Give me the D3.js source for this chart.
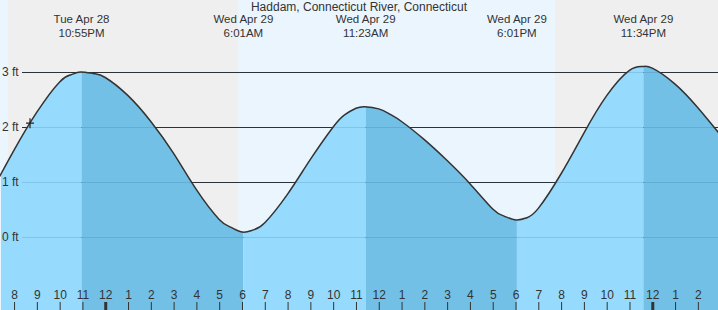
<!DOCTYPE html>
<html>
<head>
<meta charset="utf-8">
<script src="https://cdn.jsdelivr.net/npm/d3@7"></script>
<style>
  body { margin: 0; background: #fff; }
  svg { display: block; font-family: "Liberation Sans", Arial, sans-serif; }
</style>
</head>
<body>
<div id="chart"></div>
<script>
// Tide curve (feet)
const curveTimes = [
  "2020-04-28 19:00", "2020-04-28 20:00", "2020-04-28 21:00", "2020-04-28 22:00", "2020-04-28 22:30",
  "2020-04-28 22:55", "2020-04-28 23:30", "2020-04-29 00:00", "2020-04-29 01:00", "2020-04-29 02:00",
  "2020-04-29 03:00", "2020-04-29 04:00", "2020-04-29 05:00", "2020-04-29 05:30", "2020-04-29 06:01",
  "2020-04-29 06:30", "2020-04-29 07:00", "2020-04-29 08:00", "2020-04-29 09:00", "2020-04-29 10:00",
  "2020-04-29 10:30", "2020-04-29 11:00", "2020-04-29 11:23", "2020-04-29 12:00", "2020-04-29 12:30",
  "2020-04-29 13:00", "2020-04-29 14:00", "2020-04-29 15:00", "2020-04-29 16:00", "2020-04-29 17:00",
  "2020-04-29 17:30", "2020-04-29 18:01", "2020-04-29 18:30", "2020-04-29 19:00", "2020-04-29 20:00",
  "2020-04-29 21:00", "2020-04-29 22:00", "2020-04-29 23:00", "2020-04-29 23:34", "2020-04-30 00:00",
  "2020-04-30 01:00", "2020-04-30 02:00", "2020-04-30 03:00"
];
const curveHeights = [
  0.82, 1.58, 2.27, 2.82, 2.95,
  3.00, 2.97, 2.90, 2.57, 2.10,
  1.52, 0.86, 0.32, 0.18, 0.09,
  0.13, 0.26, 0.78, 1.41, 2.00,
  2.22, 2.34, 2.37, 2.33, 2.23,
  2.10, 1.77, 1.39, 0.97, 0.51,
  0.38, 0.31, 0.35, 0.52, 1.15,
  1.89, 2.57, 3.03, 3.10, 3.07,
  2.78, 2.35, 1.85
];

// High / low tides
const extremeTimes = ["2020-04-28 22:55", "2020-04-29 06:01", "2020-04-29 11:23", "2020-04-29 18:01", "2020-04-29 23:34"];
const extremeTypes = ["H", "L", "H", "L", "H"];
const extremeDays = ["Tue Apr 28", "Wed Apr 29", "Wed Apr 29", "Wed Apr 29", "Wed Apr 29"];
const extremeClock = ["10:55PM", "6:01AM", "11:23AM", "6:01PM", "11:34PM"];

// Night shading (sunset -> sunrise)
const nightStarts = ["2020-04-28 19:44", "2020-04-29 19:44"];
const nightEnds = ["2020-04-29 05:50", "2020-04-30 05:50"];

const feetTicks = [0, 1, 2, 3];
const nowTime = "2020-04-28 20:42";
const nowHeight = 2.07;
const title = "Haddam, Connecticut River, Connecticut";

const width = 718, height = 310;
const parse = d3.timeParse("%Y-%m-%d %H:%M");

const svg = d3.select('#chart').append('svg')
  .attr('width', width)
  .attr('height', height);

// Scales
const x = d3.scaleTime()
  .domain([parse("2020-04-28 19:23"), parse("2020-04-30 02:53")])
  .range([0, width]);
const y = d3.scaleLinear().domain([0, 3]).range([237, 72]);

const curve = curveTimes.map((t, i) => ({ t: parse(t), h: curveHeights[i] }));
const smooth = d3.curveNatural;

// Day background + nights
svg.append('rect').attr('width', width).attr('height', height).attr('fill', '#ebf5fe');
svg.selectAll('rect.night')
  .data(nightStarts)
  .enter()
  .append('rect')
  .attr('class', 'night')
  .attr('x', (d) => x(parse(d)))
  .attr('width', (d, i) => x(parse(nightEnds[i])) - x(parse(d)))
  .attr('y', 0)
  .attr('height', height)
  .attr('fill', '#efefef');

// Grid lines (dark, above the water)
svg.selectAll('line.grid')
  .data(feetTicks)
  .enter()
  .append('line')
  .attr('class', 'grid')
  .attr('x1', 22).attr('x2', width)
  .attr('y1', (d) => Math.round(y(d)) + 0.5)
  .attr('y2', (d) => Math.round(y(d)) + 0.5)
  .attr('stroke', '#333');

// Water area
const area = d3.area()
  .x((d) => x(d.t))
  .y0(height)
  .y1((d) => y(d.h))
  .curve(smooth);

svg.append('clipPath').attr('id', 'water')
  .append('path').attr('d', area(curve));

// rising = light, falling = dark
const bounds = [x.domain()[0]].concat(extremeTimes.map(parse), [x.domain()[1]]);
const bands = d3.range(bounds.length - 1).map((i) => ({
  a: bounds[i], b: bounds[i + 1],
  falling: i > 0 && extremeTypes[i - 1] === 'H'
}));

svg.append('g').attr('clip-path', 'url(#water)')
  .selectAll('rect')
  .data(bands)
  .enter()
  .append('rect')
  .attr('x', (d) => x(d.a) + 1)
  .attr('width', (d) => x(d.b) - x(d.a))
  .attr('y', 0)
  .attr('height', height)
  .attr('fill', (d) => d.falling ? '#72c0e6' : '#96dbfd');

// Faint grid over the water
svg.selectAll('line.faint')
  .data(feetTicks)
  .enter()
  .append('line')
  .attr('class', 'faint')
  .attr('x1', 22).attr('x2', width)
  .attr('y1', (d) => Math.round(y(d)) + 0.5)
  .attr('y2', (d) => Math.round(y(d)) + 0.5)
  .attr('stroke', 'rgba(0,50,100,0.13)');

// Tide line
svg.append('path')
  .attr('d', d3.line().x((d) => x(d.t)).y((d) => y(d.h)).curve(smooth)(curve))
  .attr('fill', 'none')
  .attr('stroke', '#333')
  .attr('stroke-width', 1.5);

// Y labels
svg.selectAll('text.ft')
  .data(feetTicks)
  .enter()
  .append('text')
  .attr('class', 'ft')
  .attr('x', 2)
  .attr('y', (d) => y(d) + 4)
  .attr('font-size', '12px')
  .attr('fill', '#333')
  .text((d) => `${d} ft`);

// Hour axis
const xAxis = d3.axisTop(x)
  .ticks(d3.timeHour.every(1))
  .tickFormat(d3.timeFormat('%-I'))
  .tickSize(8);
const xAxisGroup = svg.append('g')
  .attr('transform', `translate(0, ${height})`)
  .call(xAxis);
xAxisGroup.select('.domain').remove();
xAxisGroup.selectAll('text')
  .attr('font-size', '12px')
  .attr('font-family', '"Liberation Sans", Arial, sans-serif')
  .attr('fill', '#333');
xAxisGroup.selectAll('line')
  .attr('stroke', '#333')
  .attr('stroke-width', (d) => d.getHours() === 0 ? 3 : 1);

// Tide labels (two lines)
const labels = svg.selectAll('text.tide')
  .data(extremeTimes)
  .enter()
  .append('text')
  .attr('class', 'tide')
  .attr('text-anchor', 'middle')
  .attr('font-size', '11.5px')
  .attr('fill', '#333');
labels.append('tspan')
  .attr('x', (d) => x(parse(d)) + 1)
  .attr('y', 23)
  .text((d, i) => extremeDays[i]);
labels.append('tspan')
  .attr('x', (d) => x(parse(d)) + 1)
  .attr('y', 36.5)
  .text((d, i) => extremeClock[i]);

// Title
svg.append('text')
  .attr('x', width / 2)
  .attr('y', 11)
  .attr('text-anchor', 'middle')
  .attr('font-size', '12px')
  .attr('fill', '#333')
  .text(title);

// Current time marker
const nx = x(parse(nowTime)), ny = y(nowHeight);
svg.append('path')
  .attr('d', `M${nx - 4},${ny}H${nx + 4}M${nx},${ny - 5}V${ny + 5}`)
  .attr('stroke', '#222')
  .attr('stroke-width', 1.2);
</script>
</body>
</html>
